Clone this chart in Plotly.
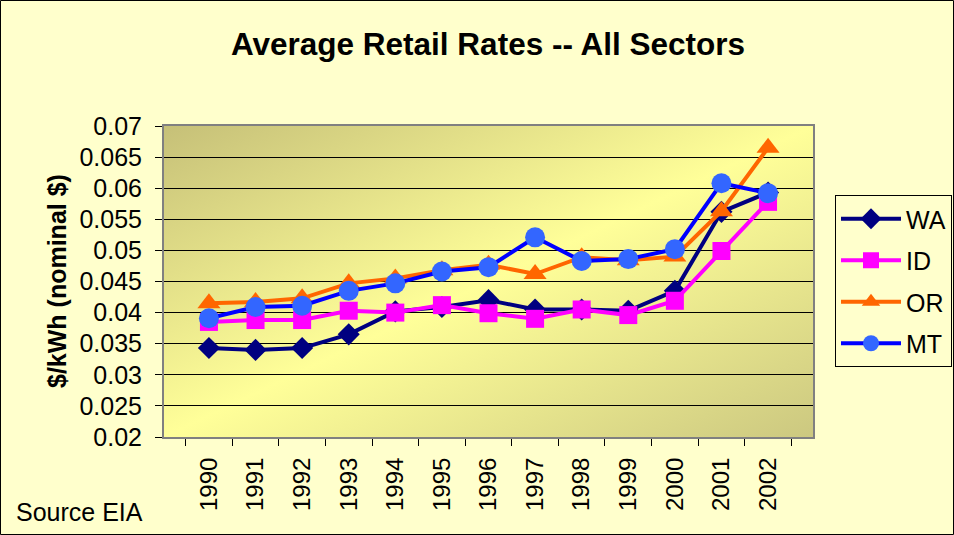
import plotly.graph_objects as go
import urllib.parse

years = ["1990","1991","1992","1993","1994","1995","1996","1997","1998","1999","2000","2001","2002"]
wa = [0.0343,0.0340,0.0343,0.0365,0.0402,0.0409,0.0420,0.0405,0.0405,0.0403,0.0435,0.0562,0.0593]
id_ = [0.0385,0.0388,0.0388,0.0403,0.0400,0.0412,0.0399,0.0390,0.0405,0.0396,0.0419,0.0499,0.0578]
or_ = [0.0415,0.0417,0.0423,0.0447,0.0455,0.0468,0.0477,0.0462,0.0489,0.0484,0.0490,0.0563,0.0665]
mt = [0.0391,0.0409,0.0411,0.0435,0.0447,0.0466,0.0473,0.0521,0.0483,0.0486,0.0502,0.0608,0.0592]
yticks = [0.02,0.025,0.03,0.035,0.04,0.045,0.05,0.055,0.06,0.065,0.07]
yticktext = ["0.02","0.025","0.03","0.035","0.04","0.045","0.05","0.055","0.06","0.065","0.07"]

W, H = 954, 535
ml, mr, mt_, mb = 164, 141, 126, 98
pw, ph = W - ml - mr, H - mt_ - mb

FONT = "Liberation Sans, Arial, sans-serif"

series = [
    ("WA", wa, "#000080", "#000080", "diamond", 17),
    ("ID", id_, "#FF00FF", "#FF00FF", "square", 18),
    ("OR", or_, "#FF6600", "#FF6600", "triangle-up", 20),
    ("MT", mt, "#0000FF", "#3366FF", "circle", 20),
]

fig = go.Figure()
for name, vals, lc, mc, sym, sz in series:
    fig.add_trace(go.Scatter(
        x=years, y=vals, name=name, mode="lines+markers",
        legendgroup=name,
        line=dict(color=lc, width=4),
        marker=dict(symbol=sym, size=sz, color=mc, line=dict(width=0)),
    ))

svg = (
    '<svg xmlns="http://www.w3.org/2000/svg" width="650" height="311" preserveAspectRatio="none">'
    '<defs><linearGradient id="g" x1="0" y1="0" x2="1" y2="1">'
    '<stop offset="0" stop-color="#C6C078"/>'
    '<stop offset="0.5" stop-color="#FFFF99"/>'
    '<stop offset="1" stop-color="#CCC880"/>'
    '</linearGradient></defs>'
    '<rect width="650" height="311" fill="url(#g)"/></svg>'
)
src = "data:image/svg+xml;charset=utf-8," + urllib.parse.quote(svg)

def px_x(p):
    return (p - ml) / pw

def px_y(p):
    return (H - mb - p) / ph

fig.update_layout(
    width=W, height=H,
    margin=dict(l=ml, r=mr, t=mt_, b=mb, autoexpand=False),
    paper_bgcolor="#FFFFCC",
    plot_bgcolor="rgba(0,0,0,0)",
    font=dict(family=FONT, size=24, color="#000000"),
    title=dict(text="<b>Average Retail Rates -- All Sectors</b>",
               x=px_x(488), xref="paper", xanchor="center",
               y=1 - 44 / H, yanchor="middle",
               font=dict(size=31.5, family=FONT)),
    showlegend=True,
    legend=dict(
        x=px_x(835), y=px_y(195), xanchor="left", yanchor="top",
        bgcolor="#FFFFCC", bordercolor="#000000", borderwidth=1,
        font=dict(size=25, family=FONT),
        tracegroupgap=6, itemwidth=60,
        traceorder="grouped",
    ),
    images=[dict(source=src, xref="paper", yref="paper", x=0, y=1,
                 sizex=1, sizey=1, xanchor="left", yanchor="top",
                 sizing="stretch", layer="below")],
    shapes=[dict(type="rect", xref="paper", yref="paper",
                 x0=px_x(0.5), x1=px_x(953.5), y0=px_y(534.5), y1=px_y(0.5),
                 line=dict(color="#000000", width=1), fillcolor="rgba(0,0,0,0)",
                 layer="below")],
    annotations=[
        dict(text="Source EIA", xref="paper", yref="paper",
             x=px_x(14), y=px_y(512), xanchor="left", yanchor="middle",
             showarrow=False, font=dict(size=25, family=FONT)),
        dict(text="<b>$/kWh (nominal $)</b>", xref="paper", yref="paper",
             x=px_x(57), y=px_y(281), xanchor="center", yanchor="middle",
             textangle=-90, showarrow=False, font=dict(size=25, family=FONT)),
    ],
)

fig.update_xaxes(
    type="category", tickangle=-90, tickson="boundaries",
    ticks="outside", ticklen=7, tickcolor="#000000",
    showline=True, linecolor="#808080", linewidth=2, mirror=True,
    showgrid=False, tickfont=dict(size=24, family=FONT), automargin=False,
    ticklabelstandoff=9,
)
fig.update_yaxes(
    range=[0.02, 0.07], tickvals=yticks, ticktext=yticktext,
    ticks="outside", ticklen=7, tickcolor="#000000",
    showline=True, linecolor="#808080", linewidth=2, mirror=True,
    showgrid=True, gridcolor="#000000", gridwidth=1,
    tickfont=dict(size=25, family=FONT), automargin=False,
    ticklabelstandoff=8,
)

fig.write_html("out.html", config={"displayModeBar": False},
               post_script="document.body.style.margin='0px';")
